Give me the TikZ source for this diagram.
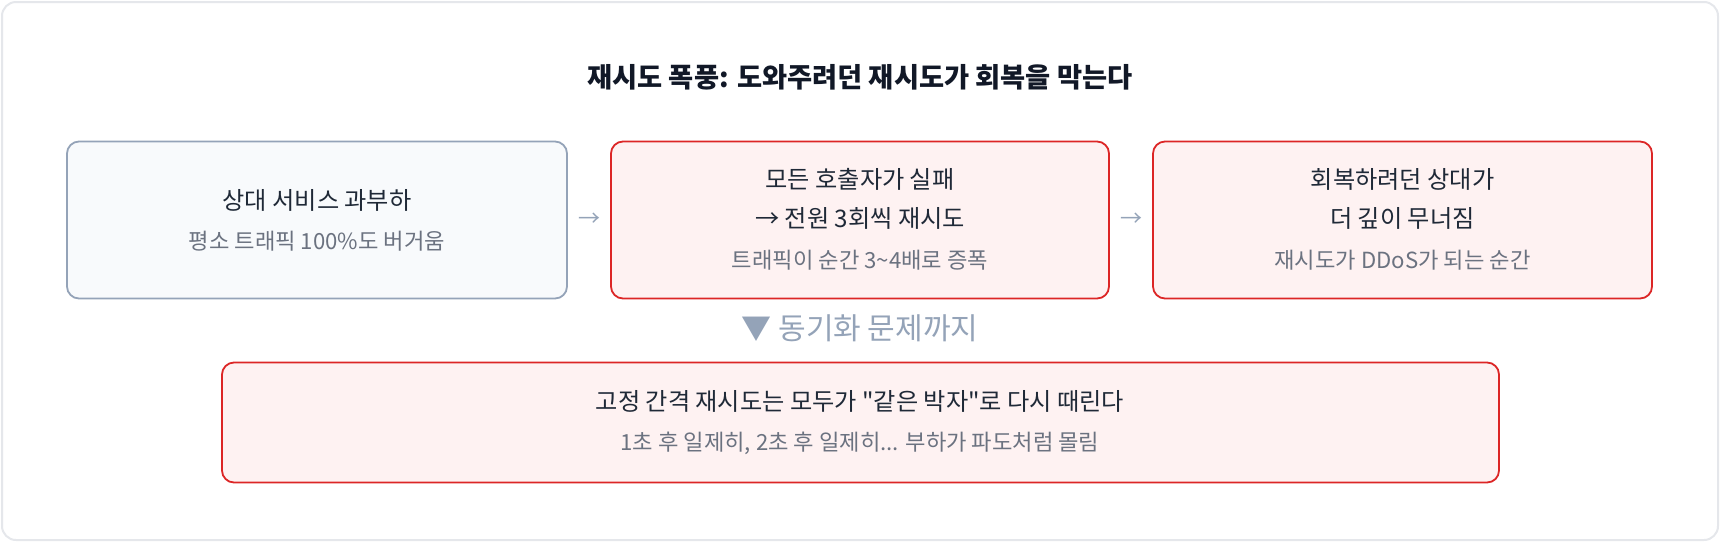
\documentclass[tikz,border=0pt]{standalone}
\usepackage{fontspec}
\setmainfont{Noto Sans CJK KR}[Ligatures=TeXOff]
\usetikzlibrary{calc}
\definecolor{framegray}{HTML}{E5E7EB}
\definecolor{titlecol}{HTML}{111827}
\definecolor{maincol}{HTML}{1F2937}
\definecolor{subcol}{HTML}{6B7280}
\definecolor{slate}{HTML}{94A3B8}
\definecolor{slatefill}{HTML}{F8FAFC}
\definecolor{redline}{HTML}{DC2626}
\definecolor{redfill}{HTML}{FEF2F2}
\tikzset{
  frame/.style={draw=framegray, line width=2pt, fill=white, rounded corners=14pt},
  neutralbox/.style={draw=slate, fill=slatefill, line width=1.8pt, rounded corners=12pt, inner sep=0pt},
  alertbox/.style={draw=redline, fill=redfill, line width=1.8pt, rounded corners=12pt, inner sep=0pt},
  maintext/.style={text=maincol, font=\fontsize{24.2}{29}\selectfont, inner sep=0pt, anchor=center},
  subtext/.style={text=subcol, font=\fontsize{22.2}{27}\selectfont, inner sep=0pt, anchor=center},
  titletext/.style={text=titlecol, font=\fontsize{27.3}{33}\selectfont\bfseries, inner sep=0pt},
  flowarrow/.style={text=slate, font=\fontsize{22}{26}\selectfont, inner sep=0pt},
  sectiontext/.style={text=slate, font=\fontsize{30}{36}\selectfont, inner sep=0pt}
}
\begin{document}
\begin{tikzpicture}[x=1pt,y=-1pt]
\useasboundingbox (0,0) rectangle (1720,542);
\draw[frame] (2,2) rectangle (1718,540);

\node[titletext] (title) at (860,77) {재시도 폭풍: 도와주려던 재시도가 회복을 막는다};

% boxes
\node[neutralbox, minimum width=500pt, minimum height=157pt] (b1) at (317,220) {};
\node[alertbox, minimum width=498pt, minimum height=157pt] (b2) at (860,220) {};
\node[alertbox, minimum width=499pt, minimum height=157pt] (b3) at (1402.5,220) {};
\node[alertbox, minimum width=1277pt, minimum height=120pt] (b4) at (860.5,422.5) {};

% box 1 text
\node[maintext] (b1a) at (317,200) {상대 서비스 과부하};
\node[subtext] (b1b) at (317,241) {평소 트래픽 100\%도 버거움};

% box 2 text
\node[maintext] (b2a) at (860,179) {모든 호출자가 실패};
\node[maintext] (b2b) at (860,218) {→ 전원 3회씩 재시도};
\node[subtext] (b2c) at (860,260) {트래픽이 순간 3\textasciitilde 4배로 증폭};

% box 3 text
\node[maintext] (b3a) at (1402.5,179) {회복하려던 상대가};
\node[maintext] (b3b) at (1402.5,218) {더 깊이 무너짐};
\node[subtext] (b3c) at (1402.5,260) {재시도가 DDoS가 되는 순간};

% box 4 text
\node[maintext] (b4a) at (860,401) {고정 간격 재시도는 모두가 "같은 박자"로 다시 때린다};
\node[subtext] (b4b) at (860,443) {1초 후 일제히, 2초 후 일제히... 부하가 파도처럼 몰림};

% flow arrows between boxes
\node[flowarrow] (a1) at ($(b1.east)!0.5!(b2.west)$) {→};
\node[flowarrow] (a2) at ($(b2.east)!0.5!(b3.west)$) {→};

% section label
\node[sectiontext] (sec) at (860,328) {▼ 동기화 문제까지};
\end{tikzpicture}
\end{document}
